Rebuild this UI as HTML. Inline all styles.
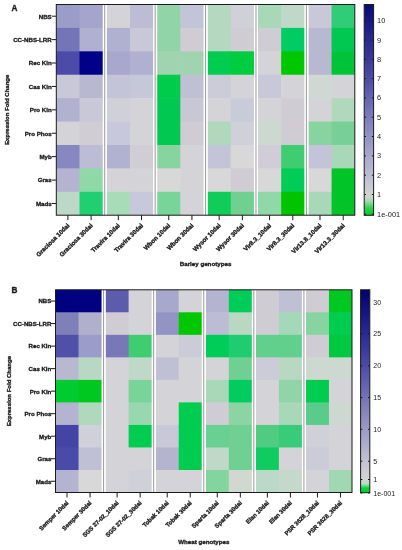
<!DOCTYPE html>
<html><head><meta charset="utf-8"><title>Expression heatmaps</title>
<style>
html,body{margin:0;padding:0;background:#fff;}
body{width:402px;height:550px;overflow:hidden;font-family:"Liberation Sans",sans-serif;}
svg{display:block;will-change:transform;}
</style></head><body>
<svg width="402" height="550" viewBox="0 0 402 550">
<rect x="0" y="0" width="402" height="550" fill="#ffffff"/>
<rect x="56.30" y="4.50" width="23.81" height="24.01" fill="#9c9cc8"/>
<rect x="79.51" y="4.50" width="23.81" height="24.01" fill="#a4a4cc"/>
<rect x="106.72" y="4.50" width="23.81" height="24.01" fill="#d4d4d8"/>
<rect x="129.93" y="4.50" width="23.81" height="24.01" fill="#bcbcd4"/>
<rect x="157.13" y="4.50" width="23.81" height="24.01" fill="#90d4a8"/>
<rect x="180.34" y="4.50" width="23.81" height="24.01" fill="#c4c4d8"/>
<rect x="207.55" y="4.50" width="23.81" height="24.01" fill="#b4d8c0"/>
<rect x="230.76" y="4.50" width="23.81" height="24.01" fill="#d0d0d8"/>
<rect x="257.97" y="4.50" width="23.81" height="24.01" fill="#a8d8b8"/>
<rect x="281.17" y="4.50" width="23.81" height="24.01" fill="#c0d8c8"/>
<rect x="308.38" y="4.50" width="23.81" height="24.01" fill="#c8c8d8"/>
<rect x="331.59" y="4.50" width="23.21" height="24.01" fill="#30cc78"/>
<rect x="56.30" y="27.91" width="23.81" height="24.01" fill="#7474b8"/>
<rect x="79.51" y="27.91" width="23.81" height="24.01" fill="#b0b0d0"/>
<rect x="106.72" y="27.91" width="23.81" height="24.01" fill="#b0b0d0"/>
<rect x="129.93" y="27.91" width="23.81" height="24.01" fill="#c8c8d8"/>
<rect x="157.13" y="27.91" width="23.81" height="24.01" fill="#90d4a8"/>
<rect x="180.34" y="27.91" width="23.81" height="24.01" fill="#d0ccd4"/>
<rect x="207.55" y="27.91" width="23.81" height="24.01" fill="#b4d8c0"/>
<rect x="230.76" y="27.91" width="23.81" height="24.01" fill="#d0ccd4"/>
<rect x="257.97" y="27.91" width="23.81" height="24.01" fill="#d0ccd4"/>
<rect x="281.17" y="27.91" width="23.81" height="24.01" fill="#00cc64"/>
<rect x="308.38" y="27.91" width="23.81" height="24.01" fill="#b8b8d0"/>
<rect x="331.59" y="27.91" width="23.21" height="24.01" fill="#00c850"/>
<rect x="56.30" y="51.32" width="23.81" height="24.01" fill="#4c4ca8"/>
<rect x="79.51" y="51.32" width="23.81" height="24.01" fill="#000088"/>
<rect x="106.72" y="51.32" width="23.81" height="24.01" fill="#a8a8cc"/>
<rect x="129.93" y="51.32" width="23.81" height="24.01" fill="#b0b0d0"/>
<rect x="157.13" y="51.32" width="23.81" height="24.01" fill="#a0d4b0"/>
<rect x="180.34" y="51.32" width="23.81" height="24.01" fill="#a0d4b0"/>
<rect x="207.55" y="51.32" width="23.81" height="24.01" fill="#00cc50"/>
<rect x="230.76" y="51.32" width="23.81" height="24.01" fill="#00cc40"/>
<rect x="257.97" y="51.32" width="23.81" height="24.01" fill="#d4d4d8"/>
<rect x="281.17" y="51.32" width="23.81" height="24.01" fill="#00c800"/>
<rect x="308.38" y="51.32" width="23.81" height="24.01" fill="#b8b8d0"/>
<rect x="331.59" y="51.32" width="23.21" height="24.01" fill="#00c438"/>
<rect x="56.30" y="74.73" width="23.81" height="24.01" fill="#c8c8d8"/>
<rect x="79.51" y="74.73" width="23.81" height="24.01" fill="#b8b8d0"/>
<rect x="106.72" y="74.73" width="23.81" height="24.01" fill="#c4c4d8"/>
<rect x="129.93" y="74.73" width="23.81" height="24.01" fill="#c4c8d8"/>
<rect x="157.13" y="74.73" width="23.81" height="24.01" fill="#00cc4c"/>
<rect x="180.34" y="74.73" width="23.81" height="24.01" fill="#c0c0d4"/>
<rect x="207.55" y="74.73" width="23.81" height="24.01" fill="#ccccd8"/>
<rect x="230.76" y="74.73" width="23.81" height="24.01" fill="#d4d4d8"/>
<rect x="257.97" y="74.73" width="23.81" height="24.01" fill="#c8c8d8"/>
<rect x="281.17" y="74.73" width="23.81" height="24.01" fill="#d4d4d8"/>
<rect x="308.38" y="74.73" width="23.81" height="24.01" fill="#d0d8d4"/>
<rect x="331.59" y="74.73" width="23.21" height="24.01" fill="#d4d4d8"/>
<rect x="56.30" y="98.14" width="23.81" height="24.01" fill="#b0b2d0"/>
<rect x="79.51" y="98.14" width="23.81" height="24.01" fill="#c8c8d8"/>
<rect x="106.72" y="98.14" width="23.81" height="24.01" fill="#d0d0d8"/>
<rect x="129.93" y="98.14" width="23.81" height="24.01" fill="#d4d4d8"/>
<rect x="157.13" y="98.14" width="23.81" height="24.01" fill="#00c850"/>
<rect x="180.34" y="98.14" width="23.81" height="24.01" fill="#c8c8d4"/>
<rect x="207.55" y="98.14" width="23.81" height="24.01" fill="#d4d4d8"/>
<rect x="230.76" y="98.14" width="23.81" height="24.01" fill="#c8ccd8"/>
<rect x="257.97" y="98.14" width="23.81" height="24.01" fill="#d4d4d8"/>
<rect x="281.17" y="98.14" width="23.81" height="24.01" fill="#d0ccd4"/>
<rect x="308.38" y="98.14" width="23.81" height="24.01" fill="#d4d4d8"/>
<rect x="331.59" y="98.14" width="23.21" height="24.01" fill="#b0d8bc"/>
<rect x="56.30" y="121.56" width="23.81" height="24.01" fill="#d4d4d8"/>
<rect x="79.51" y="121.56" width="23.81" height="24.01" fill="#d0cdd4"/>
<rect x="106.72" y="121.56" width="23.81" height="24.01" fill="#c8c8dc"/>
<rect x="129.93" y="121.56" width="23.81" height="24.01" fill="#d4d4d8"/>
<rect x="157.13" y="121.56" width="23.81" height="24.01" fill="#00c850"/>
<rect x="180.34" y="121.56" width="23.81" height="24.01" fill="#d0ccd4"/>
<rect x="207.55" y="121.56" width="23.81" height="24.01" fill="#b0d8bc"/>
<rect x="230.76" y="121.56" width="23.81" height="24.01" fill="#d0d0d8"/>
<rect x="257.97" y="121.56" width="23.81" height="24.01" fill="#ccd8d0"/>
<rect x="281.17" y="121.56" width="23.81" height="24.01" fill="#d0ccd4"/>
<rect x="308.38" y="121.56" width="23.81" height="24.01" fill="#88d4a0"/>
<rect x="331.59" y="121.56" width="23.21" height="24.01" fill="#78d098"/>
<rect x="56.30" y="144.97" width="23.81" height="24.01" fill="#8888c0"/>
<rect x="79.51" y="144.97" width="23.81" height="24.01" fill="#bcbcd4"/>
<rect x="106.72" y="144.97" width="23.81" height="24.01" fill="#b0b2d0"/>
<rect x="129.93" y="144.97" width="23.81" height="24.01" fill="#d0cdd4"/>
<rect x="157.13" y="144.97" width="23.81" height="24.01" fill="#88d4a0"/>
<rect x="180.34" y="144.97" width="23.81" height="24.01" fill="#d4d4d8"/>
<rect x="207.55" y="144.97" width="23.81" height="24.01" fill="#c4c4d8"/>
<rect x="230.76" y="144.97" width="23.81" height="24.01" fill="#d8d8d8"/>
<rect x="257.97" y="144.97" width="23.81" height="24.01" fill="#d0ccd8"/>
<rect x="281.17" y="144.97" width="23.81" height="24.01" fill="#40cc70"/>
<rect x="308.38" y="144.97" width="23.81" height="24.01" fill="#c4c4d8"/>
<rect x="331.59" y="144.97" width="23.21" height="24.01" fill="#a8d8b8"/>
<rect x="56.30" y="168.38" width="23.81" height="24.01" fill="#b4b4d0"/>
<rect x="79.51" y="168.38" width="23.81" height="24.01" fill="#90d8a8"/>
<rect x="106.72" y="168.38" width="23.81" height="24.01" fill="#d4d4d8"/>
<rect x="129.93" y="168.38" width="23.81" height="24.01" fill="#d4d4d8"/>
<rect x="157.13" y="168.38" width="23.81" height="24.01" fill="#d8d8d8"/>
<rect x="180.34" y="168.38" width="23.81" height="24.01" fill="#d4d4d8"/>
<rect x="207.55" y="168.38" width="23.81" height="24.01" fill="#d8d8d8"/>
<rect x="230.76" y="168.38" width="23.81" height="24.01" fill="#d0ccd4"/>
<rect x="257.97" y="168.38" width="23.81" height="24.01" fill="#d8d8d8"/>
<rect x="281.17" y="168.38" width="23.81" height="24.01" fill="#00cc58"/>
<rect x="308.38" y="168.38" width="23.81" height="24.01" fill="#d8d8d8"/>
<rect x="331.59" y="168.38" width="23.21" height="24.01" fill="#00c428"/>
<rect x="56.30" y="191.79" width="23.81" height="23.41" fill="#bcd8c8"/>
<rect x="79.51" y="191.79" width="23.81" height="23.41" fill="#20d070"/>
<rect x="106.72" y="191.79" width="23.81" height="23.41" fill="#a8dcb8"/>
<rect x="129.93" y="191.79" width="23.81" height="23.41" fill="#c8c8dc"/>
<rect x="157.13" y="191.79" width="23.81" height="23.41" fill="#78d498"/>
<rect x="180.34" y="191.79" width="23.81" height="23.41" fill="#d4d4d8"/>
<rect x="207.55" y="191.79" width="23.81" height="23.41" fill="#10cc58"/>
<rect x="230.76" y="191.79" width="23.81" height="23.41" fill="#70d090"/>
<rect x="257.97" y="191.79" width="23.81" height="23.41" fill="#90d8a8"/>
<rect x="281.17" y="191.79" width="23.81" height="23.41" fill="#00c400"/>
<rect x="308.38" y="191.79" width="23.81" height="23.41" fill="#a8d8b8"/>
<rect x="331.59" y="191.79" width="23.21" height="23.41" fill="#00c428"/>
<rect x="102.72" y="4.50" width="4.00" height="210.70" fill="#ffffff"/>
<rect x="104.22" y="4.50" width="1.0" height="210.70" fill="#9a9a9a"/>
<rect x="153.13" y="4.50" width="4.00" height="210.70" fill="#ffffff"/>
<rect x="154.63" y="4.50" width="1.0" height="210.70" fill="#9a9a9a"/>
<rect x="203.55" y="4.50" width="4.00" height="210.70" fill="#ffffff"/>
<rect x="205.05" y="4.50" width="1.0" height="210.70" fill="#9a9a9a"/>
<rect x="253.97" y="4.50" width="4.00" height="210.70" fill="#ffffff"/>
<rect x="255.47" y="4.50" width="1.0" height="210.70" fill="#9a9a9a"/>
<rect x="304.38" y="4.50" width="4.00" height="210.70" fill="#ffffff"/>
<rect x="305.88" y="4.50" width="1.0" height="210.70" fill="#9a9a9a"/>
<rect x="56.30" y="4.50" width="298.50" height="210.70" fill="none" stroke="#1a1a1a" stroke-width="1"/>
<line x1="51.80" y1="16.21" x2="56.30" y2="16.21" stroke="#1a1a1a" stroke-width="1"/>
<text x="51.70" y="18.56" text-anchor="end" font-size="6.15" font-weight="bold" stroke="#1a1a1a" stroke-width="0.32" font-family="Liberation Sans, sans-serif" fill="#1a1a1a">NBS</text>
<line x1="51.80" y1="39.62" x2="56.30" y2="39.62" stroke="#1a1a1a" stroke-width="1"/>
<text x="51.70" y="41.97" text-anchor="end" font-size="6.15" font-weight="bold" stroke="#1a1a1a" stroke-width="0.32" font-family="Liberation Sans, sans-serif" fill="#1a1a1a">CC-NBS-LRR</text>
<line x1="51.80" y1="63.03" x2="56.30" y2="63.03" stroke="#1a1a1a" stroke-width="1"/>
<text x="51.70" y="65.38" text-anchor="end" font-size="6.15" font-weight="bold" stroke="#1a1a1a" stroke-width="0.32" font-family="Liberation Sans, sans-serif" fill="#1a1a1a">Rec Kin</text>
<line x1="51.80" y1="86.44" x2="56.30" y2="86.44" stroke="#1a1a1a" stroke-width="1"/>
<text x="51.70" y="88.79" text-anchor="end" font-size="6.15" font-weight="bold" stroke="#1a1a1a" stroke-width="0.32" font-family="Liberation Sans, sans-serif" fill="#1a1a1a">Cas Kin</text>
<line x1="51.80" y1="109.85" x2="56.30" y2="109.85" stroke="#1a1a1a" stroke-width="1"/>
<text x="51.70" y="112.20" text-anchor="end" font-size="6.15" font-weight="bold" stroke="#1a1a1a" stroke-width="0.32" font-family="Liberation Sans, sans-serif" fill="#1a1a1a">Pro Kin</text>
<line x1="51.80" y1="133.26" x2="56.30" y2="133.26" stroke="#1a1a1a" stroke-width="1"/>
<text x="51.70" y="135.61" text-anchor="end" font-size="6.15" font-weight="bold" stroke="#1a1a1a" stroke-width="0.32" font-family="Liberation Sans, sans-serif" fill="#1a1a1a">Pro Phos</text>
<line x1="51.80" y1="156.67" x2="56.30" y2="156.67" stroke="#1a1a1a" stroke-width="1"/>
<text x="51.70" y="159.02" text-anchor="end" font-size="6.15" font-weight="bold" stroke="#1a1a1a" stroke-width="0.32" font-family="Liberation Sans, sans-serif" fill="#1a1a1a">Myb</text>
<line x1="51.80" y1="180.08" x2="56.30" y2="180.08" stroke="#1a1a1a" stroke-width="1"/>
<text x="51.70" y="182.43" text-anchor="end" font-size="6.15" font-weight="bold" stroke="#1a1a1a" stroke-width="0.32" font-family="Liberation Sans, sans-serif" fill="#1a1a1a">Gras</text>
<line x1="51.80" y1="203.49" x2="56.30" y2="203.49" stroke="#1a1a1a" stroke-width="1"/>
<text x="51.70" y="205.84" text-anchor="end" font-size="6.15" font-weight="bold" stroke="#1a1a1a" stroke-width="0.32" font-family="Liberation Sans, sans-serif" fill="#1a1a1a">Mads</text>
<line x1="67.90" y1="215.20" x2="67.90" y2="220.20" stroke="#1a1a1a" stroke-width="1"/>
<text transform="translate(69.90,226.00) rotate(-45)" x="0" y="0" text-anchor="end" font-size="6.2" font-weight="bold" stroke="#1a1a1a" stroke-width="0.32" font-family="Liberation Sans, sans-serif" fill="#1a1a1a">Graciosa 10dai</text>
<line x1="91.11" y1="215.20" x2="91.11" y2="220.20" stroke="#1a1a1a" stroke-width="1"/>
<text transform="translate(93.11,226.00) rotate(-45)" x="0" y="0" text-anchor="end" font-size="6.2" font-weight="bold" stroke="#1a1a1a" stroke-width="0.32" font-family="Liberation Sans, sans-serif" fill="#1a1a1a">Graciosa 30dai</text>
<line x1="118.32" y1="215.20" x2="118.32" y2="220.20" stroke="#1a1a1a" stroke-width="1"/>
<text transform="translate(120.32,226.00) rotate(-45)" x="0" y="0" text-anchor="end" font-size="6.2" font-weight="bold" stroke="#1a1a1a" stroke-width="0.32" font-family="Liberation Sans, sans-serif" fill="#1a1a1a">Travira 10dai</text>
<line x1="141.53" y1="215.20" x2="141.53" y2="220.20" stroke="#1a1a1a" stroke-width="1"/>
<text transform="translate(143.53,226.00) rotate(-45)" x="0" y="0" text-anchor="end" font-size="6.2" font-weight="bold" stroke="#1a1a1a" stroke-width="0.32" font-family="Liberation Sans, sans-serif" fill="#1a1a1a">Travira 30dai</text>
<line x1="168.74" y1="215.20" x2="168.74" y2="220.20" stroke="#1a1a1a" stroke-width="1"/>
<text transform="translate(170.74,226.00) rotate(-45)" x="0" y="0" text-anchor="end" font-size="6.2" font-weight="bold" stroke="#1a1a1a" stroke-width="0.32" font-family="Liberation Sans, sans-serif" fill="#1a1a1a">Wbon 10dai</text>
<line x1="191.95" y1="215.20" x2="191.95" y2="220.20" stroke="#1a1a1a" stroke-width="1"/>
<text transform="translate(193.95,226.00) rotate(-45)" x="0" y="0" text-anchor="end" font-size="6.2" font-weight="bold" stroke="#1a1a1a" stroke-width="0.32" font-family="Liberation Sans, sans-serif" fill="#1a1a1a">Wbon 30dai</text>
<line x1="219.15" y1="215.20" x2="219.15" y2="220.20" stroke="#1a1a1a" stroke-width="1"/>
<text transform="translate(221.15,226.00) rotate(-45)" x="0" y="0" text-anchor="end" font-size="6.2" font-weight="bold" stroke="#1a1a1a" stroke-width="0.32" font-family="Liberation Sans, sans-serif" fill="#1a1a1a">Wysor 10dai</text>
<line x1="242.36" y1="215.20" x2="242.36" y2="220.20" stroke="#1a1a1a" stroke-width="1"/>
<text transform="translate(244.36,226.00) rotate(-45)" x="0" y="0" text-anchor="end" font-size="6.2" font-weight="bold" stroke="#1a1a1a" stroke-width="0.32" font-family="Liberation Sans, sans-serif" fill="#1a1a1a">Wysor 30dai</text>
<line x1="269.57" y1="215.20" x2="269.57" y2="220.20" stroke="#1a1a1a" stroke-width="1"/>
<text transform="translate(271.57,226.00) rotate(-45)" x="0" y="0" text-anchor="end" font-size="6.2" font-weight="bold" stroke="#1a1a1a" stroke-width="0.32" font-family="Liberation Sans, sans-serif" fill="#1a1a1a">Vir8.3_10dai</text>
<line x1="292.78" y1="215.20" x2="292.78" y2="220.20" stroke="#1a1a1a" stroke-width="1"/>
<text transform="translate(294.78,226.00) rotate(-45)" x="0" y="0" text-anchor="end" font-size="6.2" font-weight="bold" stroke="#1a1a1a" stroke-width="0.32" font-family="Liberation Sans, sans-serif" fill="#1a1a1a">Vir8.3_30dai</text>
<line x1="319.99" y1="215.20" x2="319.99" y2="220.20" stroke="#1a1a1a" stroke-width="1"/>
<text transform="translate(321.99,226.00) rotate(-45)" x="0" y="0" text-anchor="end" font-size="6.2" font-weight="bold" stroke="#1a1a1a" stroke-width="0.32" font-family="Liberation Sans, sans-serif" fill="#1a1a1a">Vir13.8_10dai</text>
<line x1="343.20" y1="215.20" x2="343.20" y2="220.20" stroke="#1a1a1a" stroke-width="1"/>
<text transform="translate(345.20,226.00) rotate(-45)" x="0" y="0" text-anchor="end" font-size="6.2" font-weight="bold" stroke="#1a1a1a" stroke-width="0.32" font-family="Liberation Sans, sans-serif" fill="#1a1a1a">Vir13.3_30dai</text>
<text x="205.55" y="265.80" text-anchor="middle" font-size="6.2" font-weight="bold" stroke="#1a1a1a" stroke-width="0.32" font-family="Liberation Sans, sans-serif" fill="#1a1a1a">Barley genotypes</text>
<text transform="translate(9.20,109.85) rotate(-90)" x="0" y="0" text-anchor="middle" font-size="6" font-weight="bold" stroke="#1a1a1a" stroke-width="0.32" font-family="Liberation Sans, sans-serif" fill="#1a1a1a">Expression Fold Change</text>
<text x="11.5" y="11.30" font-size="8.2" font-weight="bold" stroke="#1a1a1a" stroke-width="0.32" font-family="Liberation Sans, sans-serif" fill="#1a1a1a">A</text>
<defs><linearGradient id="gA" x1="0" y1="0" x2="0" y2="1"><stop offset="0.0000" stop-color="#0a0a78"/><stop offset="0.1684" stop-color="#28288e"/><stop offset="0.3515" stop-color="#4c4ca6"/><stop offset="0.5346" stop-color="#7c7cbc"/><stop offset="0.7182" stop-color="#a8a8cc"/><stop offset="0.8098" stop-color="#bcbcd2"/><stop offset="0.9061" stop-color="#d2d4d2"/><stop offset="0.9322" stop-color="#a8d8b4"/><stop offset="0.9654" stop-color="#30d050"/><stop offset="1.0000" stop-color="#00cc22"/></linearGradient></defs>
<rect x="364.20" y="4.50" width="9.40" height="210.80" fill="url(#gA)" stroke="#1a1a1a" stroke-width="1"/>
<line x1="364.20" y1="20.70" x2="366.00" y2="20.70" stroke="#1a1a1a" stroke-width="1"/>
<line x1="371.80" y1="20.70" x2="373.60" y2="20.70" stroke="#1a1a1a" stroke-width="1"/>
<text x="377.10" y="23.20" font-size="7.4" font-family="Liberation Sans, sans-serif" fill="#1a1a1a">10</text>
<line x1="364.20" y1="40.00" x2="366.00" y2="40.00" stroke="#1a1a1a" stroke-width="1"/>
<line x1="371.80" y1="40.00" x2="373.60" y2="40.00" stroke="#1a1a1a" stroke-width="1"/>
<text x="377.10" y="42.50" font-size="7.4" font-family="Liberation Sans, sans-serif" fill="#1a1a1a">9</text>
<line x1="364.20" y1="59.30" x2="366.00" y2="59.30" stroke="#1a1a1a" stroke-width="1"/>
<line x1="371.80" y1="59.30" x2="373.60" y2="59.30" stroke="#1a1a1a" stroke-width="1"/>
<text x="377.10" y="61.80" font-size="7.4" font-family="Liberation Sans, sans-serif" fill="#1a1a1a">8</text>
<line x1="364.20" y1="78.60" x2="366.00" y2="78.60" stroke="#1a1a1a" stroke-width="1"/>
<line x1="371.80" y1="78.60" x2="373.60" y2="78.60" stroke="#1a1a1a" stroke-width="1"/>
<text x="377.10" y="81.10" font-size="7.4" font-family="Liberation Sans, sans-serif" fill="#1a1a1a">7</text>
<line x1="364.20" y1="97.90" x2="366.00" y2="97.90" stroke="#1a1a1a" stroke-width="1"/>
<line x1="371.80" y1="97.90" x2="373.60" y2="97.90" stroke="#1a1a1a" stroke-width="1"/>
<text x="377.10" y="100.40" font-size="7.4" font-family="Liberation Sans, sans-serif" fill="#1a1a1a">6</text>
<line x1="364.20" y1="117.20" x2="366.00" y2="117.20" stroke="#1a1a1a" stroke-width="1"/>
<line x1="371.80" y1="117.20" x2="373.60" y2="117.20" stroke="#1a1a1a" stroke-width="1"/>
<text x="377.10" y="119.70" font-size="7.4" font-family="Liberation Sans, sans-serif" fill="#1a1a1a">5</text>
<line x1="364.20" y1="136.50" x2="366.00" y2="136.50" stroke="#1a1a1a" stroke-width="1"/>
<line x1="371.80" y1="136.50" x2="373.60" y2="136.50" stroke="#1a1a1a" stroke-width="1"/>
<text x="377.10" y="139.00" font-size="7.4" font-family="Liberation Sans, sans-serif" fill="#1a1a1a">4</text>
<line x1="364.20" y1="155.90" x2="366.00" y2="155.90" stroke="#1a1a1a" stroke-width="1"/>
<line x1="371.80" y1="155.90" x2="373.60" y2="155.90" stroke="#1a1a1a" stroke-width="1"/>
<text x="377.10" y="158.40" font-size="7.4" font-family="Liberation Sans, sans-serif" fill="#1a1a1a">3</text>
<line x1="364.20" y1="175.20" x2="366.00" y2="175.20" stroke="#1a1a1a" stroke-width="1"/>
<line x1="371.80" y1="175.20" x2="373.60" y2="175.20" stroke="#1a1a1a" stroke-width="1"/>
<text x="377.10" y="177.70" font-size="7.4" font-family="Liberation Sans, sans-serif" fill="#1a1a1a">2</text>
<line x1="364.20" y1="194.50" x2="366.00" y2="194.50" stroke="#1a1a1a" stroke-width="1"/>
<line x1="371.80" y1="194.50" x2="373.60" y2="194.50" stroke="#1a1a1a" stroke-width="1"/>
<text x="377.10" y="197.00" font-size="7.4" font-family="Liberation Sans, sans-serif" fill="#1a1a1a">1</text>
<line x1="364.20" y1="214.30" x2="366.00" y2="214.30" stroke="#1a1a1a" stroke-width="1"/>
<line x1="371.80" y1="214.30" x2="373.60" y2="214.30" stroke="#1a1a1a" stroke-width="1"/>
<text x="377.10" y="216.80" font-size="7.4" font-family="Liberation Sans, sans-serif" fill="#1a1a1a">1e-001</text>
<rect x="55.50" y="289.80" width="23.64" height="23.12" fill="#000080"/>
<rect x="78.54" y="289.80" width="23.64" height="23.12" fill="#000080"/>
<rect x="105.58" y="289.80" width="23.64" height="23.12" fill="#5c5cac"/>
<rect x="128.62" y="289.80" width="23.64" height="23.12" fill="#d4d4d8"/>
<rect x="155.67" y="289.80" width="23.64" height="23.12" fill="#a8a8cc"/>
<rect x="178.71" y="289.80" width="23.64" height="23.12" fill="#d4d4d8"/>
<rect x="205.75" y="289.80" width="23.64" height="23.12" fill="#b4b4d0"/>
<rect x="228.79" y="289.80" width="23.64" height="23.12" fill="#00cc58"/>
<rect x="255.83" y="289.80" width="23.64" height="23.12" fill="#d0ccd4"/>
<rect x="278.88" y="289.80" width="23.64" height="23.12" fill="#c0c0d4"/>
<rect x="305.92" y="289.80" width="23.64" height="23.12" fill="#d0ccd4"/>
<rect x="328.96" y="289.80" width="23.04" height="23.12" fill="#00c820"/>
<rect x="55.50" y="312.32" width="23.64" height="23.12" fill="#8080b8"/>
<rect x="78.54" y="312.32" width="23.64" height="23.12" fill="#b0b0cc"/>
<rect x="105.58" y="312.32" width="23.64" height="23.12" fill="#d0ccd4"/>
<rect x="128.62" y="312.32" width="23.64" height="23.12" fill="#d4d4d8"/>
<rect x="155.67" y="312.32" width="23.64" height="23.12" fill="#9494c4"/>
<rect x="178.71" y="312.32" width="23.64" height="23.12" fill="#00c800"/>
<rect x="205.75" y="312.32" width="23.64" height="23.12" fill="#bcbcd4"/>
<rect x="228.79" y="312.32" width="23.64" height="23.12" fill="#b8d8c4"/>
<rect x="255.83" y="312.32" width="23.64" height="23.12" fill="#d0ccd4"/>
<rect x="278.88" y="312.32" width="23.64" height="23.12" fill="#a4d8b8"/>
<rect x="305.92" y="312.32" width="23.64" height="23.12" fill="#88d4a0"/>
<rect x="328.96" y="312.32" width="23.04" height="23.12" fill="#00cc50"/>
<rect x="55.50" y="334.84" width="23.64" height="23.12" fill="#5050a8"/>
<rect x="78.54" y="334.84" width="23.64" height="23.12" fill="#9c9cc8"/>
<rect x="105.58" y="334.84" width="23.64" height="23.12" fill="#7878b8"/>
<rect x="128.62" y="334.84" width="23.64" height="23.12" fill="#40cc70"/>
<rect x="155.67" y="334.84" width="23.64" height="23.12" fill="#d4d4d8"/>
<rect x="178.71" y="334.84" width="23.64" height="23.12" fill="#ccccd8"/>
<rect x="205.75" y="334.84" width="23.64" height="23.12" fill="#00cc58"/>
<rect x="228.79" y="334.84" width="23.64" height="23.12" fill="#20cc70"/>
<rect x="255.83" y="334.84" width="23.64" height="23.12" fill="#60d08c"/>
<rect x="278.88" y="334.84" width="23.64" height="23.12" fill="#60d08c"/>
<rect x="305.92" y="334.84" width="23.64" height="23.12" fill="#d0ccd4"/>
<rect x="328.96" y="334.84" width="23.04" height="23.12" fill="#00c840"/>
<rect x="55.50" y="357.37" width="23.64" height="23.12" fill="#b8b8d0"/>
<rect x="78.54" y="357.37" width="23.64" height="23.12" fill="#b8d8c4"/>
<rect x="105.58" y="357.37" width="23.64" height="23.12" fill="#d4d4d8"/>
<rect x="128.62" y="357.37" width="23.64" height="23.12" fill="#c0d8c8"/>
<rect x="155.67" y="357.37" width="23.64" height="23.12" fill="#c0c0d4"/>
<rect x="178.71" y="357.37" width="23.64" height="23.12" fill="#d4d4d8"/>
<rect x="205.75" y="357.37" width="23.64" height="23.12" fill="#d4d4d8"/>
<rect x="228.79" y="357.37" width="23.64" height="23.12" fill="#70d094"/>
<rect x="255.83" y="357.37" width="23.64" height="23.12" fill="#ccccd8"/>
<rect x="278.88" y="357.37" width="23.64" height="23.12" fill="#b8d8c4"/>
<rect x="305.92" y="357.37" width="23.64" height="23.12" fill="#ccd8d0"/>
<rect x="328.96" y="357.37" width="23.04" height="23.12" fill="#ccd8d0"/>
<rect x="55.50" y="379.89" width="23.64" height="23.12" fill="#00cc30"/>
<rect x="78.54" y="379.89" width="23.64" height="23.12" fill="#00c820"/>
<rect x="105.58" y="379.89" width="23.64" height="23.12" fill="#d4d4d8"/>
<rect x="128.62" y="379.89" width="23.64" height="23.12" fill="#78d498"/>
<rect x="155.67" y="379.89" width="23.64" height="23.12" fill="#d4d4d8"/>
<rect x="178.71" y="379.89" width="23.64" height="23.12" fill="#d4d4d8"/>
<rect x="205.75" y="379.89" width="23.64" height="23.12" fill="#a8d8b8"/>
<rect x="228.79" y="379.89" width="23.64" height="23.12" fill="#00cc60"/>
<rect x="255.83" y="379.89" width="23.64" height="23.12" fill="#d4d4d8"/>
<rect x="278.88" y="379.89" width="23.64" height="23.12" fill="#90d4a8"/>
<rect x="305.92" y="379.89" width="23.64" height="23.12" fill="#00cc50"/>
<rect x="328.96" y="379.89" width="23.04" height="23.12" fill="#d4d4d8"/>
<rect x="55.50" y="402.41" width="23.64" height="23.12" fill="#b4b4d0"/>
<rect x="78.54" y="402.41" width="23.64" height="23.12" fill="#b0d8bc"/>
<rect x="105.58" y="402.41" width="23.64" height="23.12" fill="#d4d4d8"/>
<rect x="128.62" y="402.41" width="23.64" height="23.12" fill="#98d8b0"/>
<rect x="155.67" y="402.41" width="23.64" height="23.12" fill="#d4d4d8"/>
<rect x="178.71" y="402.41" width="23.64" height="23.12" fill="#00cc50"/>
<rect x="205.75" y="402.41" width="23.64" height="23.12" fill="#d0ccd4"/>
<rect x="228.79" y="402.41" width="23.64" height="23.12" fill="#8cd4a4"/>
<rect x="255.83" y="402.41" width="23.64" height="23.12" fill="#d4d4d8"/>
<rect x="278.88" y="402.41" width="23.64" height="23.12" fill="#a8d8b8"/>
<rect x="305.92" y="402.41" width="23.64" height="23.12" fill="#58cc88"/>
<rect x="328.96" y="402.41" width="23.04" height="23.12" fill="#ccd8d0"/>
<rect x="55.50" y="424.93" width="23.64" height="23.12" fill="#4444a4"/>
<rect x="78.54" y="424.93" width="23.64" height="23.12" fill="#d0d0d8"/>
<rect x="105.58" y="424.93" width="23.64" height="23.12" fill="#d4d4d8"/>
<rect x="128.62" y="424.93" width="23.64" height="23.12" fill="#00cc50"/>
<rect x="155.67" y="424.93" width="23.64" height="23.12" fill="#c8c8d8"/>
<rect x="178.71" y="424.93" width="23.64" height="23.12" fill="#00cc50"/>
<rect x="205.75" y="424.93" width="23.64" height="23.12" fill="#68d090"/>
<rect x="228.79" y="424.93" width="23.64" height="23.12" fill="#70d094"/>
<rect x="255.83" y="424.93" width="23.64" height="23.12" fill="#50cc80"/>
<rect x="278.88" y="424.93" width="23.64" height="23.12" fill="#38cc78"/>
<rect x="305.92" y="424.93" width="23.64" height="23.12" fill="#d0d0d8"/>
<rect x="328.96" y="424.93" width="23.04" height="23.12" fill="#d4d4d8"/>
<rect x="55.50" y="447.46" width="23.64" height="23.12" fill="#4a4aa8"/>
<rect x="78.54" y="447.46" width="23.64" height="23.12" fill="#c0c0d4"/>
<rect x="105.58" y="447.46" width="23.64" height="23.12" fill="#d4d4d8"/>
<rect x="128.62" y="447.46" width="23.64" height="23.12" fill="#d4d4d8"/>
<rect x="155.67" y="447.46" width="23.64" height="23.12" fill="#b4b4cc"/>
<rect x="178.71" y="447.46" width="23.64" height="23.12" fill="#00cc50"/>
<rect x="205.75" y="447.46" width="23.64" height="23.12" fill="#c0d8c8"/>
<rect x="228.79" y="447.46" width="23.64" height="23.12" fill="#70d094"/>
<rect x="255.83" y="447.46" width="23.64" height="23.12" fill="#10cc60"/>
<rect x="278.88" y="447.46" width="23.64" height="23.12" fill="#d4d4d8"/>
<rect x="305.92" y="447.46" width="23.64" height="23.12" fill="#ccccd8"/>
<rect x="328.96" y="447.46" width="23.04" height="23.12" fill="#d4d4d8"/>
<rect x="55.50" y="469.98" width="23.64" height="22.52" fill="#b4b4d0"/>
<rect x="78.54" y="469.98" width="23.64" height="22.52" fill="#d8d8d8"/>
<rect x="105.58" y="469.98" width="23.64" height="22.52" fill="#d4d4d8"/>
<rect x="128.62" y="469.98" width="23.64" height="22.52" fill="#d0d0d8"/>
<rect x="155.67" y="469.98" width="23.64" height="22.52" fill="#d4d4d8"/>
<rect x="178.71" y="469.98" width="23.64" height="22.52" fill="#d4d4d8"/>
<rect x="205.75" y="469.98" width="23.64" height="22.52" fill="#84d4a0"/>
<rect x="228.79" y="469.98" width="23.64" height="22.52" fill="#d0d8d0"/>
<rect x="255.83" y="469.98" width="23.64" height="22.52" fill="#bcd8c8"/>
<rect x="278.88" y="469.98" width="23.64" height="22.52" fill="#c4d8cc"/>
<rect x="305.92" y="469.98" width="23.64" height="22.52" fill="#d4d4d8"/>
<rect x="328.96" y="469.98" width="23.04" height="22.52" fill="#a0d8b4"/>
<rect x="101.58" y="289.80" width="4.00" height="202.70" fill="#ffffff"/>
<rect x="103.08" y="289.80" width="1.0" height="202.70" fill="#9a9a9a"/>
<rect x="151.67" y="289.80" width="4.00" height="202.70" fill="#ffffff"/>
<rect x="153.17" y="289.80" width="1.0" height="202.70" fill="#9a9a9a"/>
<rect x="201.75" y="289.80" width="4.00" height="202.70" fill="#ffffff"/>
<rect x="203.25" y="289.80" width="1.0" height="202.70" fill="#9a9a9a"/>
<rect x="251.83" y="289.80" width="4.00" height="202.70" fill="#ffffff"/>
<rect x="253.33" y="289.80" width="1.0" height="202.70" fill="#9a9a9a"/>
<rect x="301.92" y="289.80" width="4.00" height="202.70" fill="#ffffff"/>
<rect x="303.42" y="289.80" width="1.0" height="202.70" fill="#9a9a9a"/>
<rect x="55.50" y="289.80" width="296.50" height="202.70" fill="none" stroke="#1a1a1a" stroke-width="1"/>
<line x1="51.00" y1="301.06" x2="55.50" y2="301.06" stroke="#1a1a1a" stroke-width="1"/>
<text x="51.30" y="303.41" text-anchor="end" font-size="6.1" font-weight="bold" stroke="#1a1a1a" stroke-width="0.32" font-family="Liberation Sans, sans-serif" fill="#1a1a1a">NBS</text>
<line x1="51.00" y1="323.58" x2="55.50" y2="323.58" stroke="#1a1a1a" stroke-width="1"/>
<text x="51.30" y="325.93" text-anchor="end" font-size="6.1" font-weight="bold" stroke="#1a1a1a" stroke-width="0.32" font-family="Liberation Sans, sans-serif" fill="#1a1a1a">CC-NBS-LRR</text>
<line x1="51.00" y1="346.11" x2="55.50" y2="346.11" stroke="#1a1a1a" stroke-width="1"/>
<text x="51.30" y="348.46" text-anchor="end" font-size="6.1" font-weight="bold" stroke="#1a1a1a" stroke-width="0.32" font-family="Liberation Sans, sans-serif" fill="#1a1a1a">Rec Kin</text>
<line x1="51.00" y1="368.63" x2="55.50" y2="368.63" stroke="#1a1a1a" stroke-width="1"/>
<text x="51.30" y="370.98" text-anchor="end" font-size="6.1" font-weight="bold" stroke="#1a1a1a" stroke-width="0.32" font-family="Liberation Sans, sans-serif" fill="#1a1a1a">Cas Kin</text>
<line x1="51.00" y1="391.15" x2="55.50" y2="391.15" stroke="#1a1a1a" stroke-width="1"/>
<text x="51.30" y="393.50" text-anchor="end" font-size="6.1" font-weight="bold" stroke="#1a1a1a" stroke-width="0.32" font-family="Liberation Sans, sans-serif" fill="#1a1a1a">Pro Kin</text>
<line x1="51.00" y1="413.67" x2="55.50" y2="413.67" stroke="#1a1a1a" stroke-width="1"/>
<text x="51.30" y="416.02" text-anchor="end" font-size="6.1" font-weight="bold" stroke="#1a1a1a" stroke-width="0.32" font-family="Liberation Sans, sans-serif" fill="#1a1a1a">Pro Phos</text>
<line x1="51.00" y1="436.19" x2="55.50" y2="436.19" stroke="#1a1a1a" stroke-width="1"/>
<text x="51.30" y="438.54" text-anchor="end" font-size="6.1" font-weight="bold" stroke="#1a1a1a" stroke-width="0.32" font-family="Liberation Sans, sans-serif" fill="#1a1a1a">Myb</text>
<line x1="51.00" y1="458.72" x2="55.50" y2="458.72" stroke="#1a1a1a" stroke-width="1"/>
<text x="51.30" y="461.07" text-anchor="end" font-size="6.1" font-weight="bold" stroke="#1a1a1a" stroke-width="0.32" font-family="Liberation Sans, sans-serif" fill="#1a1a1a">Gras</text>
<line x1="51.00" y1="481.24" x2="55.50" y2="481.24" stroke="#1a1a1a" stroke-width="1"/>
<text x="51.30" y="483.59" text-anchor="end" font-size="6.1" font-weight="bold" stroke="#1a1a1a" stroke-width="0.32" font-family="Liberation Sans, sans-serif" fill="#1a1a1a">Mads</text>
<line x1="67.02" y1="492.50" x2="67.02" y2="497.50" stroke="#1a1a1a" stroke-width="1"/>
<text transform="translate(69.02,503.30) rotate(-45)" x="0" y="0" text-anchor="end" font-size="6.0" font-weight="bold" stroke="#1a1a1a" stroke-width="0.32" font-family="Liberation Sans, sans-serif" fill="#1a1a1a">Semper 10dai</text>
<line x1="90.06" y1="492.50" x2="90.06" y2="497.50" stroke="#1a1a1a" stroke-width="1"/>
<text transform="translate(92.06,503.30) rotate(-45)" x="0" y="0" text-anchor="end" font-size="6.0" font-weight="bold" stroke="#1a1a1a" stroke-width="0.32" font-family="Liberation Sans, sans-serif" fill="#1a1a1a">Semper 30dai</text>
<line x1="117.10" y1="492.50" x2="117.10" y2="497.50" stroke="#1a1a1a" stroke-width="1"/>
<text transform="translate(119.10,503.30) rotate(-45)" x="0" y="0" text-anchor="end" font-size="6.0" font-weight="bold" stroke="#1a1a1a" stroke-width="0.32" font-family="Liberation Sans, sans-serif" fill="#1a1a1a">SGS 27-02_10dai</text>
<line x1="140.15" y1="492.50" x2="140.15" y2="497.50" stroke="#1a1a1a" stroke-width="1"/>
<text transform="translate(142.15,503.30) rotate(-45)" x="0" y="0" text-anchor="end" font-size="6.0" font-weight="bold" stroke="#1a1a1a" stroke-width="0.32" font-family="Liberation Sans, sans-serif" fill="#1a1a1a">SGS 27-02_30dai</text>
<line x1="167.19" y1="492.50" x2="167.19" y2="497.50" stroke="#1a1a1a" stroke-width="1"/>
<text transform="translate(169.19,503.30) rotate(-45)" x="0" y="0" text-anchor="end" font-size="6.0" font-weight="bold" stroke="#1a1a1a" stroke-width="0.32" font-family="Liberation Sans, sans-serif" fill="#1a1a1a">Tobak 10dai</text>
<line x1="190.23" y1="492.50" x2="190.23" y2="497.50" stroke="#1a1a1a" stroke-width="1"/>
<text transform="translate(192.23,503.30) rotate(-45)" x="0" y="0" text-anchor="end" font-size="6.0" font-weight="bold" stroke="#1a1a1a" stroke-width="0.32" font-family="Liberation Sans, sans-serif" fill="#1a1a1a">Tobak 30dai</text>
<line x1="217.27" y1="492.50" x2="217.27" y2="497.50" stroke="#1a1a1a" stroke-width="1"/>
<text transform="translate(219.27,503.30) rotate(-45)" x="0" y="0" text-anchor="end" font-size="6.0" font-weight="bold" stroke="#1a1a1a" stroke-width="0.32" font-family="Liberation Sans, sans-serif" fill="#1a1a1a">Sparta 10dai</text>
<line x1="240.31" y1="492.50" x2="240.31" y2="497.50" stroke="#1a1a1a" stroke-width="1"/>
<text transform="translate(242.31,503.30) rotate(-45)" x="0" y="0" text-anchor="end" font-size="6.0" font-weight="bold" stroke="#1a1a1a" stroke-width="0.32" font-family="Liberation Sans, sans-serif" fill="#1a1a1a">Sparta 30dai</text>
<line x1="267.35" y1="492.50" x2="267.35" y2="497.50" stroke="#1a1a1a" stroke-width="1"/>
<text transform="translate(269.35,503.30) rotate(-45)" x="0" y="0" text-anchor="end" font-size="6.0" font-weight="bold" stroke="#1a1a1a" stroke-width="0.32" font-family="Liberation Sans, sans-serif" fill="#1a1a1a">Elan 10dai</text>
<line x1="290.40" y1="492.50" x2="290.40" y2="497.50" stroke="#1a1a1a" stroke-width="1"/>
<text transform="translate(292.40,503.30) rotate(-45)" x="0" y="0" text-anchor="end" font-size="6.0" font-weight="bold" stroke="#1a1a1a" stroke-width="0.32" font-family="Liberation Sans, sans-serif" fill="#1a1a1a">Elan 30dai</text>
<line x1="317.44" y1="492.50" x2="317.44" y2="497.50" stroke="#1a1a1a" stroke-width="1"/>
<text transform="translate(319.44,503.30) rotate(-45)" x="0" y="0" text-anchor="end" font-size="6.0" font-weight="bold" stroke="#1a1a1a" stroke-width="0.32" font-family="Liberation Sans, sans-serif" fill="#1a1a1a">PSR 3628_10dai</text>
<line x1="340.48" y1="492.50" x2="340.48" y2="497.50" stroke="#1a1a1a" stroke-width="1"/>
<text transform="translate(342.48,503.30) rotate(-45)" x="0" y="0" text-anchor="end" font-size="6.0" font-weight="bold" stroke="#1a1a1a" stroke-width="0.32" font-family="Liberation Sans, sans-serif" fill="#1a1a1a">PSR 3628_30dai</text>
<text x="203.75" y="544.00" text-anchor="middle" font-size="6.2" font-weight="bold" stroke="#1a1a1a" stroke-width="0.32" font-family="Liberation Sans, sans-serif" fill="#1a1a1a">Wheat genotypes</text>
<text transform="translate(10.70,391.15) rotate(-90)" x="0" y="0" text-anchor="middle" font-size="6" font-weight="bold" stroke="#1a1a1a" stroke-width="0.32" font-family="Liberation Sans, sans-serif" fill="#1a1a1a">Expression Fold Change</text>
<text x="11.5" y="293.00" font-size="8.2" font-weight="bold" stroke="#1a1a1a" stroke-width="0.32" font-family="Liberation Sans, sans-serif" fill="#1a1a1a">B</text>
<defs><linearGradient id="gB" x1="0" y1="0" x2="0" y2="1"><stop offset="0.0000" stop-color="#000070"/><stop offset="0.2178" stop-color="#2a2a94"/><stop offset="0.3756" stop-color="#4c4ca6"/><stop offset="0.5333" stop-color="#7474b6"/><stop offset="0.6861" stop-color="#9a9ac6"/><stop offset="0.8438" stop-color="#c2c2d2"/><stop offset="0.9325" stop-color="#d4d4d6"/><stop offset="0.9571" stop-color="#b8dcc4"/><stop offset="0.9768" stop-color="#10d040"/><stop offset="1.0000" stop-color="#00d020"/></linearGradient></defs>
<rect x="360.60" y="289.80" width="9.20" height="202.90" fill="url(#gB)" stroke="#1a1a1a" stroke-width="1"/>
<line x1="360.60" y1="302.00" x2="362.40" y2="302.00" stroke="#1a1a1a" stroke-width="1"/>
<line x1="368.00" y1="302.00" x2="369.80" y2="302.00" stroke="#1a1a1a" stroke-width="1"/>
<text x="373.30" y="304.50" font-size="7.0" font-family="Liberation Sans, sans-serif" fill="#1a1a1a">30</text>
<line x1="360.60" y1="333.90" x2="362.40" y2="333.90" stroke="#1a1a1a" stroke-width="1"/>
<line x1="368.00" y1="333.90" x2="369.80" y2="333.90" stroke="#1a1a1a" stroke-width="1"/>
<text x="373.30" y="336.40" font-size="7.0" font-family="Liberation Sans, sans-serif" fill="#1a1a1a">25</text>
<line x1="360.60" y1="365.80" x2="362.40" y2="365.80" stroke="#1a1a1a" stroke-width="1"/>
<line x1="368.00" y1="365.80" x2="369.80" y2="365.80" stroke="#1a1a1a" stroke-width="1"/>
<text x="373.30" y="368.30" font-size="7.0" font-family="Liberation Sans, sans-serif" fill="#1a1a1a">20</text>
<line x1="360.60" y1="397.60" x2="362.40" y2="397.60" stroke="#1a1a1a" stroke-width="1"/>
<line x1="368.00" y1="397.60" x2="369.80" y2="397.60" stroke="#1a1a1a" stroke-width="1"/>
<text x="373.30" y="400.10" font-size="7.0" font-family="Liberation Sans, sans-serif" fill="#1a1a1a">15</text>
<line x1="360.60" y1="429.30" x2="362.40" y2="429.30" stroke="#1a1a1a" stroke-width="1"/>
<line x1="368.00" y1="429.30" x2="369.80" y2="429.30" stroke="#1a1a1a" stroke-width="1"/>
<text x="373.30" y="431.80" font-size="7.0" font-family="Liberation Sans, sans-serif" fill="#1a1a1a">10</text>
<line x1="360.60" y1="461.20" x2="362.40" y2="461.20" stroke="#1a1a1a" stroke-width="1"/>
<line x1="368.00" y1="461.20" x2="369.80" y2="461.20" stroke="#1a1a1a" stroke-width="1"/>
<text x="373.30" y="463.70" font-size="7.0" font-family="Liberation Sans, sans-serif" fill="#1a1a1a">5</text>
<line x1="360.60" y1="479.50" x2="362.40" y2="479.50" stroke="#1a1a1a" stroke-width="1"/>
<line x1="368.00" y1="479.50" x2="369.80" y2="479.50" stroke="#1a1a1a" stroke-width="1"/>
<text x="373.30" y="482.00" font-size="7.0" font-family="Liberation Sans, sans-serif" fill="#1a1a1a">1</text>
<line x1="360.60" y1="493.00" x2="362.40" y2="493.00" stroke="#1a1a1a" stroke-width="1"/>
<line x1="368.00" y1="493.00" x2="369.80" y2="493.00" stroke="#1a1a1a" stroke-width="1"/>
<text x="373.30" y="495.50" font-size="7.0" font-family="Liberation Sans, sans-serif" fill="#1a1a1a">1e-001</text>
</svg>
</body></html>
